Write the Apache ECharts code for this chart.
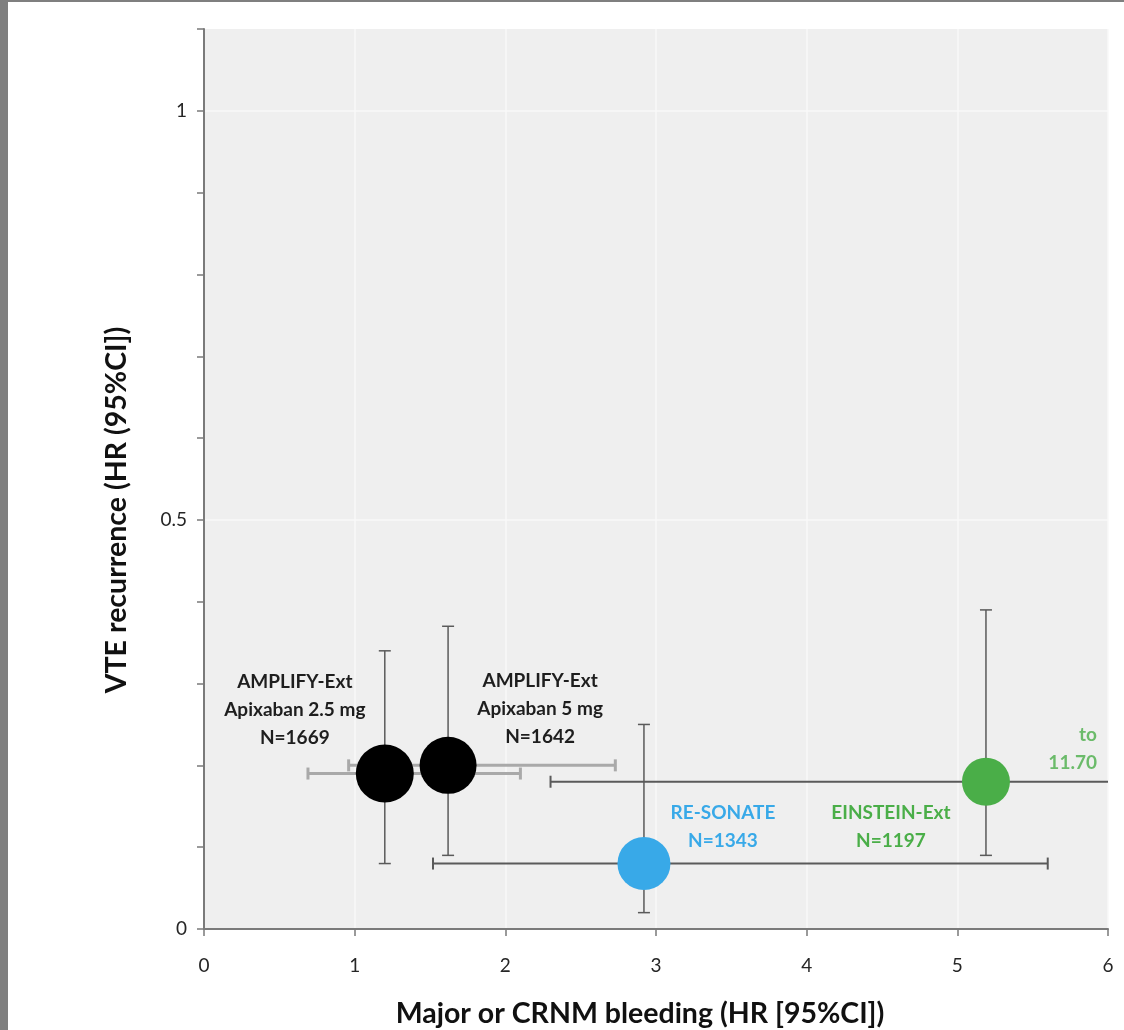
<!DOCTYPE html>
<html>
<head>
<meta charset="utf-8">
<script src="https://cdn.jsdelivr.net/npm/echarts@6/dist/echarts.min.js"></script>
<style>
html,body{margin:0;padding:0;background:#fff;}
#chart{width:1124px;height:1030px;}
</style>
</head>
<body>
<div id="chart"></div>
<script>
// ---- data ----
const studies   = ['AMPLIFY-Ext 2.5 mg', 'AMPLIFY-Ext 5 mg', 'RE-SONATE', 'EINSTEIN-Ext'];
const bleedHR   = [1.20, 1.62, 2.92, 5.19];
const bleedLo   = [0.69, 0.96, 1.52, 2.30];
const bleedHi   = [2.10, 2.73, 5.60, 11.70];
const vteHR     = [0.19, 0.20, 0.08, 0.18];
const vteLo     = [0.08, 0.09, 0.02, 0.09];
const vteHi     = [0.34, 0.37, 0.25, 0.39];
const labelText = [
  'AMPLIFY-Ext\nApixaban 2.5 mg\nN=1669',
  'AMPLIFY-Ext\nApixaban 5 mg\nN=1642',
  'RE-SONATE\nN=1343',
  'EINSTEIN-Ext\nN=1197'
];
const overflowNote = 'to\n11.70';
const xTicks = [0, 1, 2, 3, 4, 5, 6];
const yLabelTicks = [0, 0.5, 1];
const xTitle = 'Major or CRNM bleeding (HR [95%CI])';
const yTitle = 'VTE recurrence (HR (95%CI])';

// ---- styles ----
const FONT = 'Lato, "Open Sans", sans-serif';
const X_MAX = 6;
const markerColor = ['#000000', '#000000', '#38a9e8', '#4aae48'];
const markerSize = [58, 57, 53, 48];
const labelColor = ['#1e1e1e', '#1e1e1e', '#38a9e8', '#4aae48'];
const labelOffset = [[-90, -64], [92, -56], [79, -37], [-95, 45]];
const hBarStyle = [
  {stroke: '#a9a9a9', lineWidth: 3},
  {stroke: '#a9a9a9', lineWidth: 3},
  {stroke: '#5a5a5a', lineWidth: 2},
  {stroke: '#5a5a5a', lineWidth: 2}
];
const vBarStyle = {stroke: '#5a5a5a', lineWidth: 1.5};

const errData = studies.map((s, i) => [bleedHR[i], vteHR[i], bleedLo[i], bleedHi[i], vteLo[i], vteHi[i]]);

const chart = echarts.init(document.getElementById('chart'));

function renderErr(params, api) {
  const i = params.dataIndex;
  const x = api.value(0), y = api.value(1);
  const xl = api.value(2), xh = api.value(3), yl = api.value(4), yh = api.value(5);
  const c = api.coord([x, y]);
  const pl = api.coord([xl, y]);
  const ph = api.coord([Math.min(xh, X_MAX), y]);
  const vl = api.coord([x, yl]);
  const vh = api.coord([x, yh]);
  const hs = hBarStyle[i];
  const cap = 6;
  const children = [];
  children.push({type: 'line', shape: {x1: pl[0], y1: c[1], x2: ph[0], y2: c[1]}, style: hs});
  children.push({type: 'line', shape: {x1: pl[0], y1: c[1] - cap, x2: pl[0], y2: c[1] + cap}, style: hs});
  if (xh <= X_MAX) {
    children.push({type: 'line', shape: {x1: ph[0], y1: c[1] - cap, x2: ph[0], y2: c[1] + cap}, style: hs});
  }
  children.push({type: 'line', shape: {x1: c[0], y1: vl[1], x2: c[0], y2: vh[1]}, style: vBarStyle});
  children.push({type: 'line', shape: {x1: c[0] - cap, y1: vl[1], x2: c[0] + cap, y2: vl[1]}, style: vBarStyle});
  children.push({type: 'line', shape: {x1: c[0] - cap, y1: vh[1], x2: c[0] + cap, y2: vh[1]}, style: vBarStyle});
  return {type: 'group', children: children};
}

const scatterData = studies.map((s, i) => ({
  name: s,
  value: [bleedHR[i], vteHR[i]],
  symbolSize: markerSize[i],
  itemStyle: {color: markerColor[i], opacity: 1},
  label: {
    show: true,
    formatter: labelText[i],
    position: 'inside',
    offset: labelOffset[i],
    color: labelColor[i],
    fontFamily: FONT,
    fontSize: 19,
    fontWeight: 'bold',
    lineHeight: 28,
    align: 'center',
    verticalAlign: 'middle'
  }
}));

const lastIdx = studies.length - 1;

const option = {
  backgroundColor: '#ffffff',
  animation: false,
  grid: {
    left: 204, right: 16, top: 29, bottom: 101,
    show: true, backgroundColor: '#efefef', borderWidth: 0
  },
  graphic: [
    {type: 'rect', left: 0, top: 0, shape: {width: 8, height: 1030}, style: {fill: '#7f7f7f'}, silent: true},
    {type: 'rect', left: 0, top: 0, shape: {width: 1124, height: 2}, style: {fill: '#7f7f7f'}, silent: true},
    {
      type: 'text', x: 117, y: 510, rotation: Math.PI / 2,
      style: {
        text: yTitle, fill: '#111', font: 'bold 28.5px ' + FONT,
        textAlign: 'center', textVerticalAlign: 'middle'
      }
    },
    {
      type: 'text', x: 640, y: 1014,
      style: {
        text: xTitle, fill: '#111', font: 'bold 28.5px ' + FONT,
        textAlign: 'center', textVerticalAlign: 'middle'
      }
    }
  ],
  xAxis: {
    type: 'value', min: 0, max: 6, interval: 1,
    axisLine: {show: true, onZero: false, lineStyle: {color: '#7a7a7a', width: 2}},
    axisTick: {show: true, length: 7, lineStyle: {color: '#7a7a7a', width: 1.5}},
    axisLabel: {
      margin: 27, fontFamily: FONT, fontSize: 19, color: '#262626',
      formatter: v => (xTicks.indexOf(v) >= 0 ? String(v) : '')
    },
    splitLine: {show: true, lineStyle: {color: '#f9f9f9', width: 1.5}}
  },
  yAxis: {
    type: 'value', min: 0, max: 1.1, interval: 0.1,
    axisLine: {show: true, onZero: false, lineStyle: {color: '#7a7a7a', width: 2}},
    axisTick: {show: true, length: 7, lineStyle: {color: '#7a7a7a', width: 1.5}},
    axisLabel: {
      margin: 17, fontFamily: FONT, fontSize: 19, color: '#262626',
      formatter: v => {
        const r = Math.round(v * 10) / 10;
        return yLabelTicks.indexOf(r) >= 0 ? String(r) : '';
      }
    },
    splitLine: {show: true, lineStyle: {color: ['#f9f9f9', 'rgba(0,0,0,0)', 'rgba(0,0,0,0)', 'rgba(0,0,0,0)', 'rgba(0,0,0,0)'], width: 1.5}}
  },
  series: [
    {
      type: 'custom', name: 'CI', renderItem: renderErr, data: errData,
      encode: {x: [0, 2, 3], y: [1, 4, 5]}, clip: false, z: 2
    },
    {
      type: 'scatter', name: 'studies', data: scatterData, z: 3
    },
    {
      type: 'scatter', name: 'note', z: 3,
      data: [{
        value: [bleedHR[lastIdx], vteHR[lastIdx]],
        symbolSize: 1,
        itemStyle: {color: 'rgba(0,0,0,0)'},
        label: {
          show: true, formatter: overflowNote, position: 'inside', offset: [111, -33],
          color: labelColor[lastIdx], fontFamily: FONT, fontSize: 19, fontWeight: 'bold', lineHeight: 28,
          align: 'right', verticalAlign: 'middle'
        }
      }]
    }
  ]
};
chart.setOption(option);
</script>
</body>
</html>
